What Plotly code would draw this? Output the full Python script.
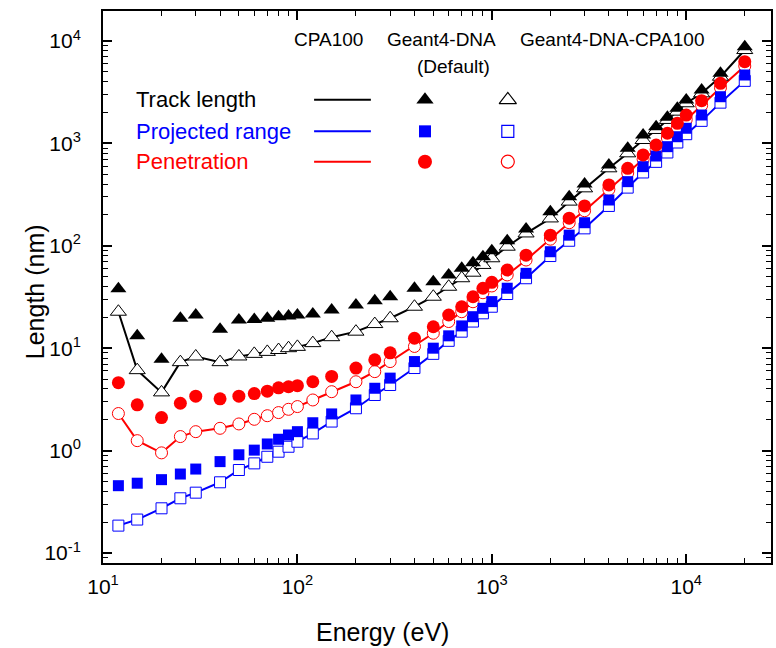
import plotly.graph_objects as go

# ---------------- data ----------------
energy = [12, 15, 20, 25, 30, 40, 50, 60, 70, 80, 90, 100, 120, 150, 200, 250, 300,
          400, 500, 600, 700, 800, 900, 1000, 1200, 1500, 2000, 2500, 3000, 4000,
          5000, 6000, 7000, 8000, 9000, 10000, 12000, 15000, 20000]

# Geant4-DNA (Default) - filled markers
g4_track = [38, 13.2, 7.8, 19.6, 21.1, 15.3, 18.8, 19.1, 19.6, 20.3, 20.6, 21.1, 21.6, 23.6,
            26.4, 29.1, 31.8, 38.5, 44.6, 51.9, 60.3, 68.4, 78.3, 89.6, 112, 146, 215, 301,
            401, 615, 896, 1208, 1456, 1799, 2203, 2655, 3323, 4838, 8800]
g4_proj = [0.454, 0.48, 0.52, 0.59, 0.66, 0.78, 0.91, 1.01, 1.16, 1.29, 1.42, 1.53, 1.87,
           2.28, 3.12, 4.06, 5.1, 7.4, 10.0, 13.2, 16.5, 20.3, 24.5, 28.5, 38.5, 53.8, 87.5,
           127, 168, 280, 423, 593, 753, 929, 1162, 1405, 1893, 2856, 4655]
g4_pen = [4.6, 2.8, 2.1, 2.9, 3.4, 3.2, 3.4, 3.6, 3.8, 4.1, 4.2, 4.3, 4.7, 5.3, 6.4, 7.7,
          9.0, 12.5, 16.2, 21.1, 25.4, 31.8, 38.5, 44.0, 58, 81, 127, 186, 245, 393, 571,
          771, 964, 1256, 1572, 1892, 2611, 3863, 6280]

# Geant4-DNA-CPA100 - open markers
g4cpa_track = [22.7, 6.1, 3.7, 7.3, 8.3, 7.3, 8.3, 8.8, 9.2, 9.6, 10.0, 10.3, 11.2, 12.8,
               14.5, 17.2, 19.6, 25.4, 31.8, 39.8, 48.2, 54.6, 65, 75.5, 98, 132, 185, 270,
               364, 571, 800, 1079, 1352, 1694, 2042, 2466, 3084, 4477, 8160]
g4cpa_proj = [0.185, 0.212, 0.273, 0.342, 0.388, 0.49, 0.646, 0.75, 0.87, 0.975, 1.09, 1.22,
              1.47, 1.92, 2.59, 3.49, 4.37, 6.4, 8.8, 11.8, 14.5, 18.2, 21.9, 25.4, 33.8,
              48.2, 79.4, 112, 148, 245, 370, 520, 660, 815, 1020, 1230, 1660, 2500, 4080]
g4cpa_pen = [2.3, 1.25, 0.95, 1.37, 1.53, 1.65, 1.82, 2.02, 2.19, 2.35, 2.53, 2.69, 3.12,
             3.76, 4.7, 5.9, 7.4, 10.4, 14.0, 18.2, 22.7, 28.4, 34.8, 40.5, 51.9, 72.6, 116,
             168, 220, 355, 515, 700, 870, 1130, 1420, 1710, 2350, 3500, 5700]

# CPA100 - lines
cpa_track = list(g4cpa_track)
cpa_proj = list(g4cpa_proj)
cpa_pen = list(g4cpa_pen)

x_tickvals = [10, 100, 1000, 10000]
x_ticktext = ["10<sup>1</sup>", "10<sup>2</sup>", "10<sup>3</sup>", "10<sup>4</sup>"]
y_tickvals = [0.1, 1, 10, 100, 1000, 10000]
y_ticktext = ["10<sup>-1</sup>", "10<sup>0</sup>", "10<sup>1</sup>", "10<sup>2</sup>",
              "10<sup>3</sup>", "10<sup>4</sup>"]

x_minor = [m * 10 ** d for d in range(1, 5) for m in range(2, 10)]
y_minor = [m * 10.0 ** d for d in range(-2, 5) for m in range(2, 10)]

BLACK = "#000000"
BLUE = "#0000ff"
RED = "#ff0000"
FONT = "Liberation Sans, Arial, sans-serif"

X_RANGE = [1, 4.436]
Y_RANGE = [-1.098, 4.293]

series = [
    (cpa_track, g4cpa_track, g4_track, BLACK, "triangle-up", 14, 14),
    (cpa_proj, g4cpa_proj, g4_proj, BLUE, "square", 11, 11),
    (cpa_pen, g4cpa_pen, g4_pen, RED, "circle", 12, 13),
]

fig = go.Figure()
for line_v, open_v, fill_v, col, sym, osz, fsz in series:
    fig.add_trace(go.Scatter(x=energy, y=line_v, mode="lines",
                             line=dict(color=col, width=2), showlegend=False,
                             hoverinfo="skip"))
for line_v, open_v, fill_v, col, sym, osz, fsz in series:
    fig.add_trace(go.Scatter(x=energy, y=open_v, mode="markers",
                             marker=dict(symbol=sym, size=osz, color="white",
                                         line=dict(color=col, width=1)),
                             showlegend=False))
for line_v, open_v, fill_v, col, sym, osz, fsz in series:
    fig.add_trace(go.Scatter(x=energy, y=fill_v, mode="markers",
                             marker=dict(symbol=sym, size=fsz, color=col,
                                         line=dict(width=0)),
                             showlegend=False))

# empty trace binding the minor-tick overlay axes
fig.add_trace(go.Scatter(x=[None], y=[None], xaxis="x3", yaxis="y3", mode="markers",
                         showlegend=False, hoverinfo="skip"))

# ---- custom legend on an overlay linear axis (0..1 over the plot area) ----
rows_y = [0.839, 0.782, 0.727]
labels = ["Track length", "Projected range", "Penetration"]
for (line_v, open_v, fill_v, col, sym, osz, fsz), ry, lab in zip(series, rows_y, labels):
    fig.add_trace(go.Scatter(x=[0.316, 0.401], y=[ry, ry], mode="lines",
                             line=dict(color=col, width=2), xaxis="x2", yaxis="y2",
                             showlegend=False, hoverinfo="skip"))
    fig.add_trace(go.Scatter(x=[0.482], y=[ry], mode="markers",
                             marker=dict(symbol=sym, size=fsz + 1, color=col, line=dict(width=0)),
                             xaxis="x2", yaxis="y2", showlegend=False, hoverinfo="skip"))
    fig.add_trace(go.Scatter(x=[0.606], y=[ry], mode="markers",
                             marker=dict(symbol=sym, size=osz + 1, color="white",
                                         line=dict(color=col, width=1.2)),
                             xaxis="x2", yaxis="y2", showlegend=False, hoverinfo="skip"))
    fig.add_annotation(x=0.046, y=ry, xref="x2", yref="y2", text=lab, showarrow=False,
                       xanchor="left", yanchor="middle",
                       font=dict(family=FONT, size=22, color=col))

hdr = dict(family=FONT, size=19, color=BLACK)
fig.add_annotation(x=0.337, y=0.948, xref="x2", yref="y2", text="CPA100",
                   showarrow=False, font=hdr, xanchor="center", yanchor="middle")
fig.add_annotation(x=0.506, y=0.948, xref="x2", yref="y2", text="Geant4-DNA",
                   showarrow=False, font=hdr, xanchor="center", yanchor="middle")
fig.add_annotation(x=0.524, y=0.899, xref="x2", yref="y2", text="(Default)",
                   showarrow=False, font=hdr, xanchor="center", yanchor="middle")
fig.add_annotation(x=0.762, y=0.948, xref="x2", yref="y2", text="Geant4-DNA-CPA100",
                   showarrow=False, font=hdr, xanchor="center", yanchor="middle")

# axis titles (paper coords are relative to the plot area)
fig.add_annotation(x=(35 - 103) / 670, y=(563 - 292) / 552, xref="paper", yref="paper",
                   text="Length (nm)", textangle=-90, showarrow=False,
                   xanchor="center", yanchor="middle",
                   font=dict(family=FONT, size=25, color=BLACK))
fig.add_annotation(x=(383 - 103) / 670, y=(563 - 632) / 552, xref="paper", yref="paper",
                   text="Energy (eV)", showarrow=False,
                   xanchor="center", yanchor="middle",
                   font=dict(family=FONT, size=25, color=BLACK))

axis_common = dict(showgrid=False, zeroline=False, showline=True, linecolor=BLACK,
                   linewidth=2, mirror="ticks", ticks="inside", ticklen=9,
                   tickwidth=1.5, tickcolor=BLACK,
                   tickfont=dict(family=FONT, size=21, color=BLACK))
minor_common = dict(showgrid=False, zeroline=False, showline=False, mirror="ticks",
                    ticks="inside", ticklen=5, tickwidth=1.2, tickcolor=BLACK,
                    showticklabels=False, fixedrange=True)

fig.update_layout(
    width=776, height=648,
    margin=dict(l=103, r=3, t=11, b=85),
    paper_bgcolor="white", plot_bgcolor="white",
    showlegend=False,
    xaxis=dict(type="log", range=X_RANGE, tickmode="array", tickvals=x_tickvals,
               ticktext=x_ticktext, ticklabelstandoff=4, **axis_common),
    yaxis=dict(type="log", range=Y_RANGE, tickmode="array", tickvals=y_tickvals,
               ticktext=y_ticktext, ticklabelstandoff=16, **axis_common),
    xaxis2=dict(overlaying="x", range=[0, 1], visible=False, fixedrange=True),
    yaxis2=dict(overlaying="y", range=[0, 1], visible=False, fixedrange=True),
    xaxis3=dict(overlaying="x", type="log", range=X_RANGE, tickmode="array",
                tickvals=x_minor, side="bottom", **minor_common),
    yaxis3=dict(overlaying="y", type="log", range=Y_RANGE, tickmode="array",
                tickvals=y_minor, side="left", **minor_common),
)

fig.write_html("out.html")
